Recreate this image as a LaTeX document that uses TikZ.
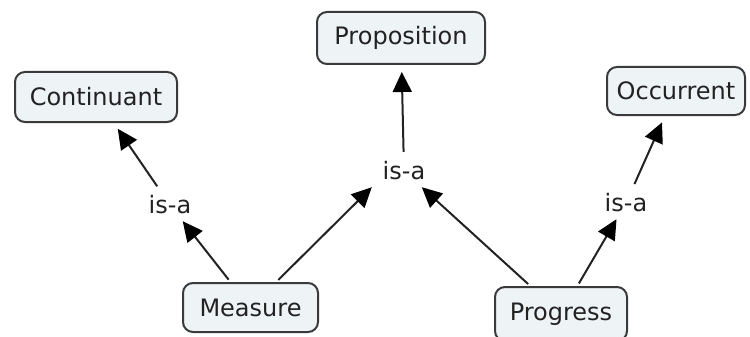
\documentclass[tikz,border=0pt]{standalone}
\usepackage{fontspec}
\setmainfont{DejaVu Sans}
\usetikzlibrary{arrows.meta}
\definecolor{boxfill}{HTML}{EEF3F6}
\definecolor{boxline}{HTML}{3A3A3A}
\definecolor{inkcol}{HTML}{222222}
\tikzset{
  concept/.style={draw=boxline, line width=2pt, fill=boxfill, rounded corners=10pt,
    minimum height=50pt, inner sep=0pt, text=inkcol,
    font=\fontsize{24}{28}\selectfont},
  linker/.style={rectangle, minimum width=64pt, minimum height=32pt, inner sep=0pt,
    text=inkcol, font=\fontsize{24}{28}\selectfont},
  link/.style={line width=2pt, draw=inkcol, shorten <=3pt},
  isarrow/.style={link, -{Triangle[length=20pt,width=19pt,color=black]}},
  toconcept/.style={isarrow, shorten >=7pt}
}
\begin{document}
\begin{tikzpicture}[x=1pt,y=-1pt]
  \useasboundingbox (0,0) rectangle (750,337);

  % concepts
  \node[concept, minimum width=162pt] (cont) at (96,97)  {Continuant};
  \node[concept, minimum width=168pt, minimum height=52pt] (prop) at (401,38) {Proposition};
  \node[concept, minimum width=138pt, minimum height=48pt] (occ)  at (676,91) {Occurrent};
  \node[concept, minimum width=135pt, minimum height=49pt] (meas) at (250.5,307.5) {Measure};
  \node[concept, minimum width=132pt, minimum height=54pt] (prog) at (561,314) {Progress};

  % linking phrases
  \node[linker] (isa1) at (170,205) {is-a};
  \node[linker] (isa2) at (404,171) {is-a};
  \node[linker] (isa3) at (626,203) {is-a};

  % connections
  \draw[isarrow]   (meas) -- (isa1);
  \draw[toconcept] (isa1) -- (cont);
  \draw[isarrow]   (meas) -- (isa2.south west);
  \draw[isarrow]   (prog) -- (isa2);
  \draw[toconcept] (isa2) -- (prop);
  \draw[isarrow]   (prog) -- (isa3);
  \draw[toconcept] (isa3) -- (occ);
\end{tikzpicture}
\end{document}
